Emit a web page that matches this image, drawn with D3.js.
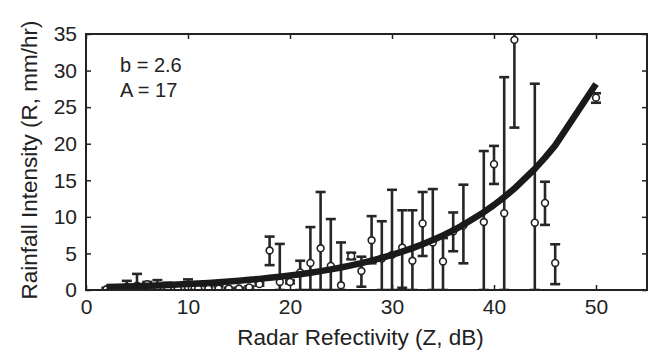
<!DOCTYPE html>
<html>
<head>
<meta charset="utf-8">
<script src="https://cdn.jsdelivr.net/npm/d3@7"></script>
<style>
  body { margin: 0; background: #fff; }
  svg text { font-family: "Liberation Sans", Arial, Helvetica, sans-serif; fill: #222; }
</style>
</head>
<body>
<svg id="chart" width="649" height="354"></svg>
<script>
// reflectivity bins (dB) and observed rainfall statistics (mm/hr)
var zBins  = [2, 3, 4, 5, 6, 7, 8, 9, 10, 11, 12, 13, 14, 15, 16, 17, 18, 19, 20, 21, 22, 23, 24, 25, 26, 27, 28, 29, 30, 31, 32, 33, 34, 35, 36, 37, 39, 40, 41, 42, 44, 45, 46, 50];
var rMean  = [0.1, 0.15, 0.4, 0.6, 0.8, 0.4, 0.3, 0.25, 0.35, 0.2, 0.2, 0.2, 0.2, 0.2, 0.35, 0.8, 5.4, 1.1, 1.1, 2.4, 3.7, 5.7, 3.3, 0.65, 4.65, 2.6, 6.8, 4.3, 4.8, 5.8, 4.0, 9.1, 6.5, 3.9, 8.0, 8.8, 9.3, 17.2, 10.5, 34.2, 9.2, 11.9, 3.7, 26.3];
var rLow   = [0, 0, 0, 0, 0.4, 0, 0, 0, 0, 0, 0, 0, 0.1, 0.1, 0.2, 0.6, 3.4, 0, 0.9, 0, 0, 0, 0, 0, 4.2, 0.45, 3.65, 0, 0, 0.3, 0, 4.65, 0, 0, 5.3, 3.65, 0, 14.5, 0, 22.2, 0, 8.9, 0.8, 25.6];
var rHigh  = [0.3, 0.4, 1.25, 2.2, 1.1, 1.35, 1.0, 0.6, 1.45, 0.6, 0.5, 0.5, 0.3, 0.3, 0.5, 1.0, 7.3, 6.3, 1.3, 4.0, 8.6, 13.4, 9.7, 6.5, 5.1, 4.55, 10.1, 9.4, 13.7, 10.9, 10.9, 13.4, 13.8, 7.1, 10.6, 14.4, 19.0, 19.7, 29.1, 46, 28.2, 14.8, 6.25, 26.9];
// fitted Z-R curve read at the same bins
var rFit   = [0.40, 0.44, 0.48, 0.52, 0.57, 0.63, 0.68, 0.75, 0.82, 0.89, 0.97, 1.06, 1.16, 1.27, 1.39, 1.52, 1.66, 1.81, 1.98, 2.16, 2.36, 2.58, 2.82, 3.08, 3.36, 3.67, 4.02, 4.39, 4.79, 5.24, 5.72, 6.25, 6.83, 7.46, 8.15, 8.91, 10.64, 11.62, 12.70, 13.87, 16.56, 18.09, 19.77, 28.17];
var xTicks = [0, 10, 20, 30, 40, 50];
var yTicks = [0, 5, 10, 15, 20, 25, 30, 35];
var notes  = ["b = 2.6", "A = 17"];

var svg = d3.select("#chart");
var margin = {top: 34, right: 2, bottom: 64, left: 86};
var W = 649 - margin.left - margin.right,
    H = 354 - margin.top - margin.bottom;

var x = d3.scaleLinear().domain([0, 55]).range([0, W]);
var y = d3.scaleLinear().domain([0, 35]).range([H, 0]);

var g = svg.append("g").attr("transform", "translate(" + margin.left + "," + margin.top + ")");

g.append("clipPath").attr("id", "clip")
  .append("rect").attr("width", W).attr("height", H);

var pts = zBins.map(function(z, i) {
  return {z: z, m: rMean[i], lo: rLow[i], hi: rHigh[i], f: rFit[i]};
});

var plot = g.append("g").attr("clip-path", "url(#clip)");

// error bars
var cap = 5;
var eb = plot.selectAll(".eb").data(pts).enter().append("g").attr("class", "eb")
  .attr("stroke", "#262626").attr("stroke-width", 2.6);
eb.append("line")
  .attr("x1", function(d) { return x(d.z); }).attr("x2", function(d) { return x(d.z); })
  .attr("y1", function(d) { return y(d.lo); }).attr("y2", function(d) { return y(d.hi); });
eb.append("line")
  .attr("x1", function(d) { return x(d.z) - cap; }).attr("x2", function(d) { return x(d.z) + cap; })
  .attr("y1", function(d) { return y(d.hi); }).attr("y2", function(d) { return y(d.hi); });
eb.append("line")
  .attr("x1", function(d) { return x(d.z) - cap; }).attr("x2", function(d) { return x(d.z) + cap; })
  .attr("y1", function(d) { return y(d.lo); }).attr("y2", function(d) { return y(d.lo); });

plot.selectAll(".pt").data(pts).enter().append("circle").attr("class", "pt")
  .attr("cx", function(d) { return x(d.z); })
  .attr("cy", function(d) { return y(d.m); })
  .attr("r", 3.4)
  .attr("fill", "#fff").attr("stroke", "#222").attr("stroke-width", 1.6);

// fitted curve on top
var line = d3.line().x(function(d) { return x(d.z); }).y(function(d) { return y(d.f); });
plot.append("path").datum(pts)
  .attr("d", line)
  .attr("fill", "none").attr("stroke", "#1a1a1a").attr("stroke-width", 6.5)
  .attr("stroke-linejoin", "round");

// axes (inward ticks, boxed)
function styleAxis(sel) {
  sel.select(".domain").remove();
  sel.selectAll(".tick line").attr("stroke", "#222").attr("stroke-width", 1.5);
  sel.selectAll("text").attr("font-size", 21).attr("fill", "#222");
}
g.append("g").attr("transform", "translate(0," + H + ")")
  .call(d3.axisBottom(x).tickValues(xTicks).tickSize(-5).tickPadding(9)).call(styleAxis);
g.append("g")
  .call(d3.axisLeft(y).tickValues(yTicks).tickSize(-5).tickPadding(9)).call(styleAxis);
g.append("g")
  .call(d3.axisTop(x).tickValues(xTicks).tickSize(-5).tickFormat("")).call(styleAxis);
g.append("g").attr("transform", "translate(" + W + ",0)")
  .call(d3.axisRight(y).tickValues(yTicks).tickSize(-5).tickFormat("")).call(styleAxis);

g.append("rect").attr("width", W).attr("height", H)
  .attr("fill", "none").attr("stroke", "#222").attr("stroke-width", 2);

// labels
svg.append("text")
  .attr("x", margin.left + W / 2 - 6).attr("y", 345)
  .attr("text-anchor", "middle").attr("font-size", 22.5)
  .text("Radar Refectivity (Z, dB)");
svg.append("text")
  .attr("transform", "translate(37," + (margin.top + H / 2 - 2) + ") rotate(-90)")
  .attr("text-anchor", "middle").attr("font-size", 22.5)
  .text("Rainfall Intensity (R, mm/hr)");

g.selectAll(".note").data(notes).enter().append("text").attr("class", "note")
  .attr("x", 34).attr("y", function(d, i) { return 38 + i * 25; })
  .attr("font-size", 20)
  .text(function(d) { return d; });
</script>
</body>
</html>
